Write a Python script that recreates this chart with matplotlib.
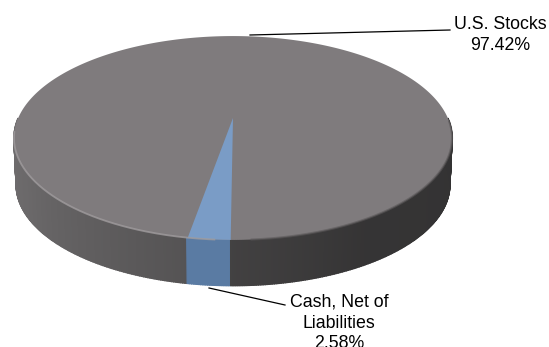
import numpy as np
import matplotlib
matplotlib.use('Agg')
import matplotlib.pyplot as plt

plt.rcParams['font.family'] = ['Liberation Sans', 'DejaVu Sans']

# Values
categories = ['U.S. Stocks', 'Cash, Net of\nLiabilities']
shares = [97.42, 2.58]
share_labels = ['97.42%', '2.58%']

top_color = '#7f7b7d'
blue_top = '#7a9cc6'
blue_wall = '#5a7ba3'

fig = plt.figure(figsize=(5.49, 3.47), dpi=100)
ax = fig.add_axes([0, 0, 1, 1])
ax.set_xlim(0, 549)
ax.set_ylim(347, 0)
ax.axis('off')


# tilted disc: angle on the disc -> picture position (perspective, so the
# centre sits above the middle of the ellipse)
def project(theta, scale=1.0, drop=0.0):
    u = np.cos(theta)
    v = np.sin(theta)
    w = 1 + 0.196 * v
    return 233 + 214.8 * scale * u / w, 118 + drop - 98 * scale * v / w


# slices run clockwise from the bottom, cash first
cash_deg = 360 * shares[1] / sum(shares)
cash_end = np.radians(269.5)
cash_start = cash_end - np.radians(cash_deg)

# side wall, front half only, one thin strip per step so it can shade
wall_angles = np.radians(np.linspace(180, 360, 361))
wall_stops = np.array([180, 210, 240, 262, 270, 300, 360])
wall_greys = np.array([0.44, 0.42, 0.37, 0.33, 0.26, 0.21, 0.20])
for a, b in zip(wall_angles[:-1], wall_angles[1:]):
    xa, ya = project(a)
    xb, yb = project(b)
    xc, yc = project(b, 0.99, 47)
    xd, yd = project(a, 0.99, 47)
    mid = (a + b) / 2
    g = np.interp(np.degrees(mid), wall_stops, wall_greys)
    color = (g, g * 0.98, g * 0.99)
    if cash_start <= mid <= cash_end:
        color = blue_wall
    ax.fill([xa, xb, xc, xd], [ya, yb, yc, yd], color=color, lw=1.0, zorder=1)

# top face
t = np.radians(np.linspace(0, 360, 721))
ax.fill(*project(t), color=top_color, lw=0, zorder=2)

# cash slice on the top face
t_cash = np.linspace(cash_start, cash_end, 30)
xs, ys = project(t_cash)
ax.fill(np.r_[233, xs], np.r_[118, ys], color=blue_top, lw=0, zorder=3)

# lighter bevel on the lit side, soft dark edge on the shaded side
t_rim = np.radians(np.linspace(188, 266, 200))
ax.plot(*project(t_rim), color='#a09c9e', lw=1.3, alpha=0.8, zorder=4)
t_shade = np.radians(np.linspace(274, 358, 200))
ax.plot(*project(t_shade), color='#5a5758', lw=1.5, alpha=0.6, zorder=4)

# leader lines
ax.plot([250, 450], [35, 30], color='black', lw=0.9, zorder=5)
ax.plot([209, 285], [288, 305], color='black', lw=0.9, zorder=5)

ax.text(500, 35, categories[0] + '\n' + share_labels[0], ha='center', va='center',
        fontsize=12.8, linespacing=1.28, color='black')
ax.text(339, 323, categories[1] + '\n' + share_labels[1], ha='center', va='center',
        fontsize=12.8, linespacing=1.28, color='black', clip_on=False)

fig.savefig('out.png', dpi=100)
